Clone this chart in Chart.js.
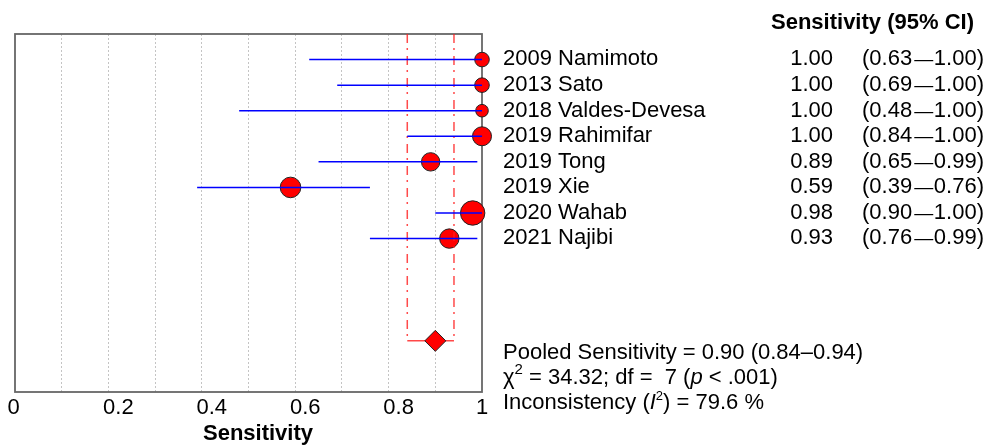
<!DOCTYPE html>
<html><head><meta charset="utf-8">
<script src="https://cdn.jsdelivr.net/npm/chart.js@4"></script>
<style>html,body{margin:0;padding:0;background:#fff;overflow:hidden}</style>
</head><body>
<canvas id="c" width="990" height="446"></canvas>
<script>
// ---- data ----
const studies = ["2009 Namimoto","2013 Sato","2018 Valdes-Devesa","2019 Rahimifar","2019 Tong","2019 Xie","2020 Wahab","2021 Najibi"];
const sensitivity = [1.00, 1.00, 1.00, 1.00, 0.89, 0.59, 0.98, 0.93];
const ciLower = [0.63, 0.69, 0.48, 0.84, 0.65, 0.39, 0.90, 0.76];
const ciUpper = [1.00, 1.00, 1.00, 1.00, 0.99, 0.76, 1.00, 0.99];
const studyWeightRadius = [7.3, 7.3, 6.3, 9.5, 9.2, 10.3, 12.2, 9.7];
const pooledEstimate = [0.90];
const pooledCI = [0.84, 0.94];
const heterogeneity = [34.32, 7, 79.6]; // chi2, df, I2
const xTickLabels = [0, 0.2, 0.4, 0.6, 0.8, 1];
const pooledRow = 12;

const FONT = "'Liberation Sans', Arial, sans-serif";
const datasets = [];
studies.forEach((s, i) => {
  datasets.push({type:'line', data:[{x:ciLower[i], y:i+1},{x:ciUpper[i], y:i+1}],
    borderColor:'#0000ff', borderWidth:1.5, pointRadius:0, clip:false});
});
datasets.push({type:'scatter', data:[{x:pooledEstimate[0], y:pooledRow}], pointStyle:'rectRot',
  pointRadius:10.5, backgroundColor:'#ff0000', borderColor:'#222', borderWidth:1, clip:false});
datasets.push({type:'line', data:[{x:pooledCI[0], y:pooledRow},{x:pooledCI[1], y:pooledRow}],
  borderColor:'rgba(255,40,40,0.85)', borderWidth:1.5, pointRadius:0, clip:false});
pooledCI.forEach(v => {
  datasets.push({type:'line', data:[{x:v, y:0},{x:v, y:pooledRow}],
    borderColor:'rgba(255,30,30,0.8)', borderWidth:1.5, borderDash:[9,5,2,6], pointRadius:0, clip:false});
});
datasets.push({type:'scatter', data:sensitivity.map((v,i)=>({x:v, y:i+1})),
  pointRadius:studyWeightRadius, backgroundColor:'#ff0000', borderColor:'#222', borderWidth:1, clip:false});

function drawRich(ctx, x, y, parts) {
  for (const p of parts) {
    ctx.font = p.f;
    ctx.fillText(p.t, x, y + (p.dy || 0));
    x += ctx.measureText(p.t).width;
  }
}

const decor = {
  id:'decor',
  beforeDatasetsDraw(chart) {
    const {ctx, chartArea:a} = chart;
    ctx.save();
    ctx.strokeStyle = '#666';
    ctx.lineWidth = 1.8;
    ctx.strokeRect(a.left, a.top, a.right - a.left, a.bottom - a.top);
    ctx.restore();
  },
  afterDraw(chart) {
    const {ctx} = chart;
    const xs = chart.scales.x, ys = chart.scales.y;
    ctx.save();
    ctx.fillStyle = '#000';
    // x tick labels
    ctx.font = '22px ' + FONT;
    ctx.textAlign = 'center';
    ctx.textBaseline = 'alphabetic';
    xTickLabels.forEach(v => {
      const shift = (v === 0) ? -1.5 : (v === 1 ? 0 : 10);
      ctx.fillText(String(v), xs.getPixelForValue(v) + shift, 413.5);
    });
    ctx.font = 'bold 22px ' + FONT;
    ctx.fillText('Sensitivity', xs.getPixelForValue(0.5) + 9.5, 440);
    // header
    ctx.textAlign = 'left';
    ctx.fillText('Sensitivity (95% CI)', 771, 29);
    // rows
    studies.forEach((s, i) => {
      const y = ys.getPixelForValue(i + 1) + 5.8;
      ctx.font = '22px ' + FONT;
      ctx.textAlign = 'left';
      ctx.fillText(s, 503, y);
      ctx.textAlign = 'right';
      ctx.fillText(sensitivity[i].toFixed(2), 833, y);
      ctx.textAlign = 'left';
      ctx.fillText('(' + ciLower[i].toFixed(2), 862, y);
      ctx.textAlign = 'right';
      ctx.fillText(ciUpper[i].toFixed(2) + ')', 984, y);
      ctx.textAlign = 'center';
      ctx.font = '19px ' + FONT;
      ctx.fillText('\u2014', 923.7, y);
    });
    // summary
    ctx.textAlign = 'left';
    const n = '22px ' + FONT, it = 'italic 22px ' + FONT, sup = '15px ' + FONT;
    drawRich(ctx, 503, 359, [{t:'Pooled Sensitivity = ' + pooledEstimate[0].toFixed(2) + ' (' + pooledCI[0].toFixed(2) + '\u2013' + pooledCI[1].toFixed(2) + ')', f:n}]);
    drawRich(ctx, 503, 384, [{t:'\u03c7', f:n},{t:'2', f:sup, dy:-10},{t:' = ' + heterogeneity[0].toFixed(2) + '; df =  ' + heterogeneity[1] + ' (', f:n},{t:'p', f:it},{t:' < .001)', f:n}]);
    drawRich(ctx, 503, 409, [{t:'Inconsistency (', f:n},{t:'I', f:it},{t:'2', f:'13px ' + FONT, dy:-9},{t:') = ' + heterogeneity[2].toFixed(1) + ' %', f:n}]);
    ctx.restore();
  }
};

new Chart(document.getElementById('c'), {
  data: {datasets},
  options: {
    responsive:false, animation:false,
    layout:{padding:{left:15, right:508, top:34, bottom:54}},
    plugins:{legend:{display:false}, tooltip:{enabled:false}},
    scales:{
      x:{type:'linear', min:0, max:1,
        ticks:{display:false, stepSize:0.1},
        grid:{drawTicks:false, lineWidth:1,
          color:(c)=> (c.tick && (Math.abs(c.tick.value) < 1e-6 || Math.abs(c.tick.value-1) < 1e-6)) ? 'rgba(0,0,0,0)' : '#c4c4c4'},
        border:{display:false, dash:[2,2]},
        afterFit:(s)=>{ s.height = 0; }},
      y:{type:'linear', min:0, max:14, reverse:true, display:false}
    }
  },
  plugins:[decor]
});
</script>
</body></html>
